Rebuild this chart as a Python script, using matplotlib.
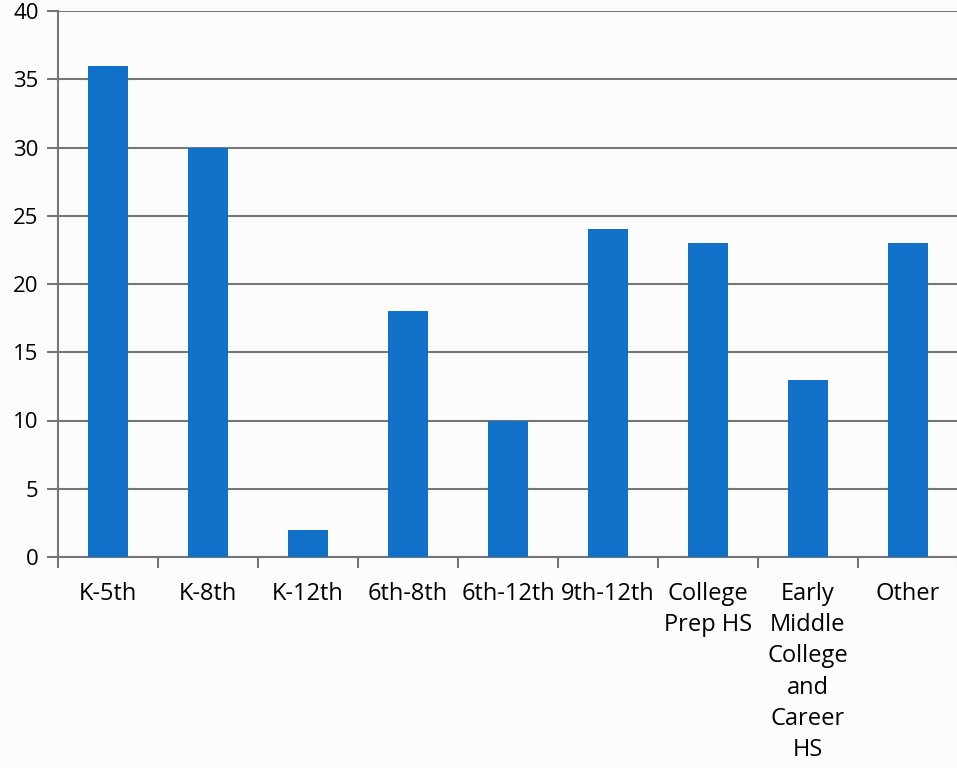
import matplotlib
matplotlib.use("Agg")
import matplotlib.pyplot as plt
import numpy as np

categories = ["K-5th", "K-8th", "K-12th", "6th-8th", "6th-12th", "9th-12th",
              "College\nPrep HS", "Early\nMiddle\nCollege\nand\nCareer\nHS", "Other"]
values = [36, 30, 2, 18, 10, 24, 23, 13, 23]
y_ticks = [0, 5, 10, 15, 20, 25, 30, 35, 40]

plt.rcParams['font.family'] = ['Open Sans', 'DejaVu Sans']

W, H = 957, 768
fig = plt.figure(figsize=(W / 100, H / 100), dpi=100)
fig.patch.set_facecolor('#fcfcfc')
ax = fig.add_axes([58 / W, (H - 557) / H, 900 / W, 546 / H])
ax.set_facecolor('#fcfcfc')

x = np.arange(len(categories))
ax.bar(x, values, width=0.4, color='#1170c8', zorder=3)

ax.set_xlim(-0.5, len(categories) - 0.5)
ax.set_ylim(0, 40)
ax.set_yticks(y_ticks)
ax.set_yticklabels([str(v) for v in y_ticks], fontsize=16)
ax.yaxis.grid(True, color='#767676', linewidth=1.5, zorder=0)
ax.tick_params(axis='y', length=8, width=1.5, color='#767676', pad=6)

ax.set_xticks(x)
ax.set_xticklabels(categories, fontsize=17, linespacing=1.4, va='top')
ax.tick_params(axis='x', which='major', length=0, pad=18)
ax.set_xticks(np.arange(-0.5, len(categories)), minor=True)
ax.tick_params(axis='x', which='minor', length=8, width=1.5, color='#767676')

for s in ['top', 'right']:
    ax.spines[s].set_visible(False)
for s in ['left', 'bottom']:
    ax.spines[s].set_color('#767676')
    ax.spines[s].set_linewidth(1.5)

fig.savefig('out.png', dpi=100, facecolor=fig.get_facecolor())
